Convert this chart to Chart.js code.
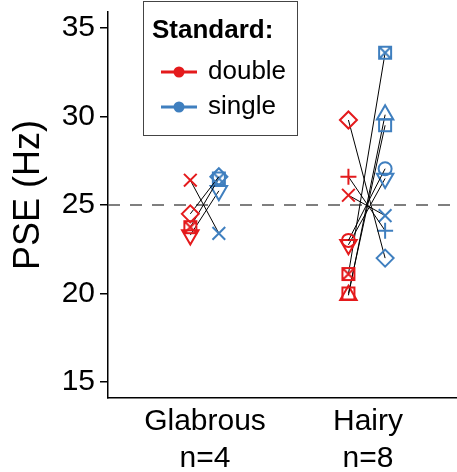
<!DOCTYPE html>
<html>
<head>
<meta charset="utf-8">
<script src="https://cdn.jsdelivr.net/npm/chart.js@4.4.1/dist/chart.umd.min.js"></script>
<style>
  body { margin: 0; background: #fff; }
  #wrap { width: 457px; height: 472px; }
</style>
</head>
<body>
<div id="wrap"><canvas id="pseChart" width="457" height="472"></canvas></div>
<script>
const categories = ['Glabrous', 'Hairy'];
const seriesNames = ['double', 'single'];
const legendTitle = 'Standard:';
const yTitle = 'PSE (Hz)';

// one entry per subject: marker shape, PSE with double standard, PSE with single standard
const glabrousShapes = ['crossRot', 'rectRot', 'boxX', 'triDown'];
const glabrousDouble = [26.4, 24.5, 23.75, 23.3];
const glabrousSingle = [23.4, 26.6, 26.5, 25.8];

const hairyShapes = ['rectRot', 'cross', 'crossRot', 'circle', 'triDown', 'boxX', 'rect', 'triangle'];
const hairyDouble = [29.8, 26.6, 25.55, 23.0, 22.75, 21.1, 20.0, 19.9];
const hairySingle = [22.0, 23.55, 24.4, 27.05, 26.5, 33.6, 29.5, 30.1];

const yTicks = [15, 20, 25, 30, 35];
const refPSE = 25;

const RED = '#E41A1C';
const BLUE = '#3F7FBF';
const seriesColors = [RED, BLUE];
const FONT = "'Liberation Sans', Arial, Helvetica, sans-serif";

// double / single columns sit a little left / right of each category
const columnOffsets = [[-0.09, 0.085], [-0.12, 0.105]];

function boxCross(color) {
  const c = document.createElement('canvas');
  c.width = 16;
  c.height = 16;
  const g = c.getContext('2d');
  g.strokeStyle = color;
  g.lineWidth = 2;
  g.strokeRect(2, 2, 12, 12);
  g.beginPath();
  g.moveTo(2, 2); g.lineTo(14, 14);
  g.moveTo(14, 2); g.lineTo(2, 14);
  g.stroke();
  return c;
}

const markers = {
  cross:    { style: 'cross', radius: 8 },
  crossRot: { style: 'crossRot', radius: 9 },
  rectRot:  { style: 'rectRot', radius: 8.5 },
  rect:     { style: 'rect', radius: 8.5 },
  circle:   { style: 'circle', radius: 6.5 },
  triangle: { style: 'triangle', radius: 9.5 },
  triDown:  { style: 'triangle', radius: 9.5, rotation: 180 },
  boxX:     { style: [boxCross(RED), boxCross(BLUE)], radius: 8 }
};

const groups = [
  { shapes: glabrousShapes, double: glabrousDouble, single: glabrousSingle },
  { shapes: hairyShapes, double: hairyDouble, single: hairySingle }
];
const counts = groups.map(g => g.shapes.length);

const datasets = [];
groups.forEach((g, gi) => {
  g.shapes.forEach((shape, i) => {
    const m = markers[shape];
    datasets.push({
      data: [
        { x: gi + columnOffsets[gi][0], y: g.double[i] },
        { x: gi + columnOffsets[gi][1], y: g.single[i] }
      ],
      showLine: true,
      borderColor: '#000',
      borderWidth: 1,
      pointStyle: Array.isArray(m.style) ? m.style : [m.style, m.style],
      pointRotation: m.rotation || 0,
      pointRadius: m.radius,
      pointHoverRadius: m.radius,
      pointBorderColor: seriesColors,
      pointBackgroundColor: 'rgba(0,0,0,0)',
      pointBorderWidth: 2
    });
  });
});

const refLine = {
  id: 'refLine',
  beforeDatasetsDraw(chart) {
    const { ctx, chartArea, scales } = chart;
    const py = scales.y.getPixelForValue(refPSE);
    ctx.save();
    ctx.strokeStyle = '#555';
    ctx.lineWidth = 1.5;
    ctx.setLineDash([12, 10]);
    ctx.beginPath();
    ctx.moveTo(chartArea.left, py);
    ctx.lineTo(chartArea.right, py);
    ctx.stroke();
    ctx.restore();
  }
};

// y title sits a bit above the middle of the axis, as in the original figure
const yTitleDraw = {
  id: 'yTitleDraw',
  afterDraw(chart) {
    const { ctx, chartArea } = chart;
    ctx.save();
    ctx.translate(29, (chartArea.top + chartArea.bottom) / 2 - 10);
    ctx.rotate(-Math.PI / 2);
    ctx.fillStyle = '#000';
    ctx.font = '36px ' + FONT;
    ctx.textAlign = 'center';
    ctx.textBaseline = 'middle';
    ctx.fillText(yTitle, 0, 0);
    ctx.restore();
  }
};

const legendBox = {
  id: 'legendBox',
  afterDraw(chart) {
    const { ctx, chartArea } = chart;
    const x0 = chartArea.left + 35, y0 = 1, w = 154, h = 134;
    ctx.save();
    ctx.fillStyle = '#fff';
    ctx.fillRect(x0, y0, w, h);
    ctx.strokeStyle = '#444';
    ctx.lineWidth = 1;
    ctx.strokeRect(x0 + 0.5, y0 + 0.5, w, h);
    ctx.textBaseline = 'middle';
    ctx.fillStyle = '#000';
    ctx.font = 'bold 26px ' + FONT;
    ctx.fillText(legendTitle, x0 + 9, y0 + 30);
    ctx.font = '26px ' + FONT;
    seriesNames.forEach((name, i) => {
      const cy = y0 + 71 + i * 35;
      ctx.strokeStyle = seriesColors[i];
      ctx.lineWidth = 3;
      ctx.beginPath();
      ctx.moveTo(x0 + 18, cy);
      ctx.lineTo(x0 + 54, cy);
      ctx.stroke();
      ctx.fillStyle = seriesColors[i];
      ctx.beginPath();
      ctx.arc(x0 + 36, cy, 5.5, 0, Math.PI * 2);
      ctx.fill();
      ctx.fillStyle = '#000';
      ctx.fillText(name, x0 + 65, cy);
    });
    ctx.restore();
  }
};

new Chart(document.getElementById('pseChart'), {
  type: 'scatter',
  data: { datasets },
  options: {
    responsive: false,
    animation: false,
    layout: { autoPadding: false, padding: { top: 12, right: 0, left: 0, bottom: 0 } },
    plugins: {
      legend: { display: false },
      tooltip: { enabled: false }
    },
    scales: {
      x: {
        type: 'linear',
        min: -0.595,
        max: 1.546,
        afterBuildTicks: s => { s.ticks = categories.map((c, i) => ({ value: i })); },
        afterFit: s => { s.height = 74; s.paddingLeft = 0; s.paddingRight = 0; },
        grid: { display: false, drawTicks: false },
        border: { display: true, color: '#000', width: 1.5 },
        ticks: {
          callback: v => [categories[v], 'n=' + counts[v]],
          font: { family: FONT, size: 30, lineHeight: 1.23 },
          color: '#000',
          padding: 5,
          maxRotation: 0,
          autoSkip: false
        }
      },
      y: {
        min: 14.1,
        max: 35.9,
        afterBuildTicks: s => { s.ticks = yTicks.map(v => ({ value: v })); },
        afterFit: s => { s.width = 108; s.paddingTop = 0; s.paddingBottom = 0; },
        grid: { drawOnChartArea: false, drawTicks: true, tickLength: 8, color: '#000', lineWidth: 1.5 },
        border: { display: true, color: '#000', width: 1.5 },
        ticks: { font: { family: FONT, size: 30 }, color: '#000', padding: 5 }
      }
    }
  },
  plugins: [refLine, legendBox, yTitleDraw]
});
</script>
</body>
</html>
